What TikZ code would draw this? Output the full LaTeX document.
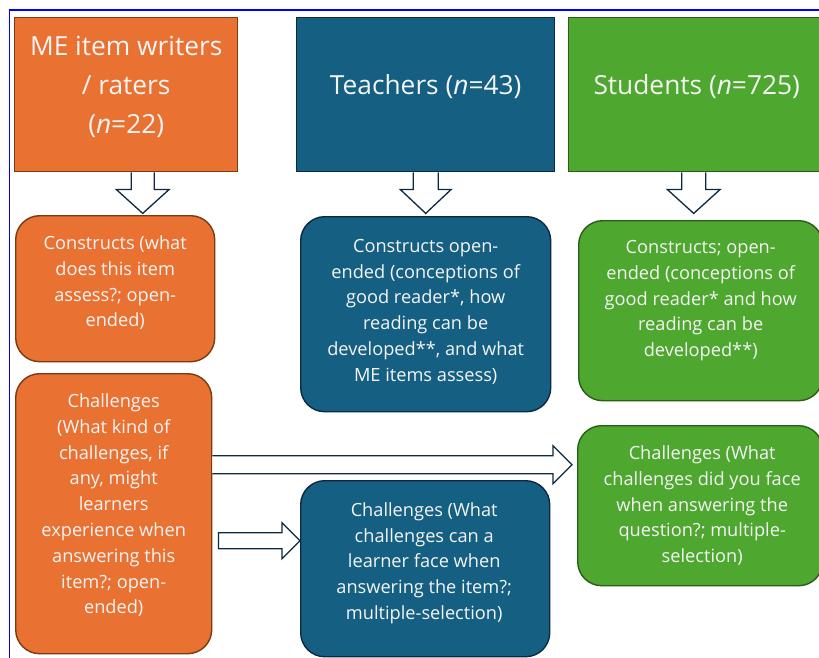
\documentclass[tikz,border=0pt]{standalone}
\usepackage{fontspec}
\setmainfont{Open Sans}
\usetikzlibrary{calc}
\definecolor{orng}{HTML}{E97132}
\definecolor{orngline}{HTML}{7A3A12}
\definecolor{tblue}{HTML}{156082}
\definecolor{tblueline}{HTML}{0E2841}
\definecolor{sgreen}{HTML}{4EA72E}
\definecolor{sgreenline}{HTML}{2B5C1A}
\definecolor{arrline}{HTML}{0E2841}
\definecolor{frameblue}{HTML}{0000FF}
\definecolor{txtwhite}{HTML}{F4F4F4}
\begin{document}
\begin{tikzpicture}[x=1pt,y=-1pt,
  box/.style={draw, line width=1.4pt, anchor=north west, inner sep=0pt},
  rbox/.style={box, rounded corners=24pt},
  obox/.style={fill=orng, draw=orngline},
  tbox/.style={fill=tblue, draw=tblueline},
  sbox/.style={fill=sgreen, draw=sgreenline},
  hdrtext/.style={text=txtwhite, align=center, inner sep=0pt, font=\fontsize{26.3}{39}\selectfont},
  bodytext/.style={text=txtwhite, align=center, inner sep=0pt, font=\fontsize{18.2}{25.8}\selectfont},
  blockarrow/.style={draw=arrline, fill=white, line width=1.3pt, line join=miter}
]
\useasboundingbox (0,0) rectangle (819,658);
\fill[white] (0,0) rectangle (819,658);
\clip (0,0) rectangle (819,658);
\draw[frameblue, line width=1.1pt] (9.5,660) -- (9.5,10) -- (822,10);

% header boxes
\node[box, obox, minimum width=223pt, minimum height=154pt] (h1) at (14,17) {};
\node[box, tbox, minimum width=258pt, minimum height=154pt] (h2) at (296,17) {};
\node[box, sbox, minimum width=256pt, minimum height=154pt] (h3) at (568,17) {};

% construct boxes
\node[rbox, obox, minimum width=199pt, minimum height=146pt] (c1) at (15,215) {};
\node[rbox, tbox, minimum width=250pt, minimum height=195pt] (c2) at (300,216) {};
\node[rbox, sbox, minimum width=244pt, minimum height=180pt] (c3) at (578,220) {};

% challenge boxes
\node[rbox, obox, minimum width=196pt, minimum height=280pt] (oc2) at (15,373) {};
\node[rbox, tbox, minimum width=249pt, minimum height=176pt] (tc2) at (300,480) {};
\node[rbox, sbox, minimum width=245pt, minimum height=160pt] (sc2) at (577,425) {};

% texts
\node[hdrtext] (h1t) at ($(h1.center)+(0,-8)$) {ME item writers\\/ raters\\(\textit{n}=22)};
\node[hdrtext] (h2t) at ($(h2.center)+(0,-8)$) {Teachers (\textit{n}=43)};
\node[hdrtext] (h3t) at ($(h3.center)+(0,-8)$) {Students (\textit{n}=725)};

\node[bodytext] (c1t) at ($(c1.center)+(0,-6)$) {Constructs (what\\does this item\\assess?; open-\\ended)};
\node[bodytext] (c2t) at ($(c2.center)+(0,-2.5)$) {Constructs open-\\ended (conceptions of\\good reader*, how\\reading can be\\developed**, and what\\ME items assess)};
\node[bodytext] (c3t) at ($(c3.center)+(0,-10)$) {Constructs; open-\\ended (conceptions of\\good reader* and how\\reading can be\\developed**)};

\node[bodytext] (oc2t) at ($(oc2.center)+(0,-8.5)$) {Challenges\\(What kind of\\challenges, if\\any, might\\learners\\experience when\\answering this\\item?; open-\\ended)};
\node[bodytext] (tc2t) at ($(tc2.center)+(-1,-5.5)$) {Challenges (What\\challenges can a\\learner face when\\answering the item?;\\multiple-selection)};
\node[bodytext] (sc2t) at ($(sc2.center)+(2,0)$) {Challenges (What\\challenges did you face\\when answering the\\question?; multiple-\\selection)};

% vertical block arrows
\path (h1.south) ++(16.5,0) coordinate (a1s) ++(0,41) coordinate (a1t);
\draw[blockarrow] ($(a1s)+(-11.5,0)$) -- ($(a1t)+(-11.5,-24)$) -- ($(a1t)+(-26.5,-24)$) -- (a1t) -- ($(a1t)+(26.5,-24)$) -- ($(a1t)+(11.5,-24)$) -- ($(a1s)+(11.5,0)$);
\path (h2.south) coordinate (a2s) ++(0,41) coordinate (a2t);
\draw[blockarrow] ($(a2s)+(-12.5,0)$) -- ($(a2t)+(-12.5,-24)$) -- ($(a2t)+(-25.5,-24)$) -- (a2t) -- ($(a2t)+(25.5,-24)$) -- ($(a2t)+(12.5,-24)$) -- ($(a2s)+(12.5,0)$);
\path (h3.south) ++(-3,0) coordinate (a3s) ++(0,41) coordinate (a3t);
\draw[blockarrow] ($(a3s)+(-12,0)$) -- ($(a3t)+(-12,-24)$) -- ($(a3t)+(-26.5,-24)$) -- (a3t) -- ($(a3t)+(26.5,-24)$) -- ($(a3t)+(12,-24)$) -- ($(a3s)+(12,0)$);

% long horizontal block arrow: orange challenges -> student challenges
\path (oc2.east) ++(0,-49) coordinate (la);
\path (la -| sc2.west) ++(-5,0) coordinate (lb);
\draw[blockarrow] ($(la)+(0,-9)$) -- ($(lb)+(-19,-9)$) -- ($(lb)+(-19,-19)$) -- (lb) -- ($(lb)+(-19,19)$) -- ($(lb)+(-19,9)$) -- ($(la)+(0,9)$);

% short horizontal block arrow: orange challenges -> teacher challenges
\path (oc2.east) ++(6,27) coordinate (sa);
\path (sa -| tc2.west) coordinate (sb);
\draw[blockarrow] ($(sa)+(0,-8)$) -- ($(sb)+(-18,-8)$) -- ($(sb)+(-18,-18)$) -- (sb) -- ($(sb)+(-18,18)$) -- ($(sb)+(-18,8)$) -- ($(sa)+(0,8)$) -- cycle;
\end{tikzpicture}
\end{document}
